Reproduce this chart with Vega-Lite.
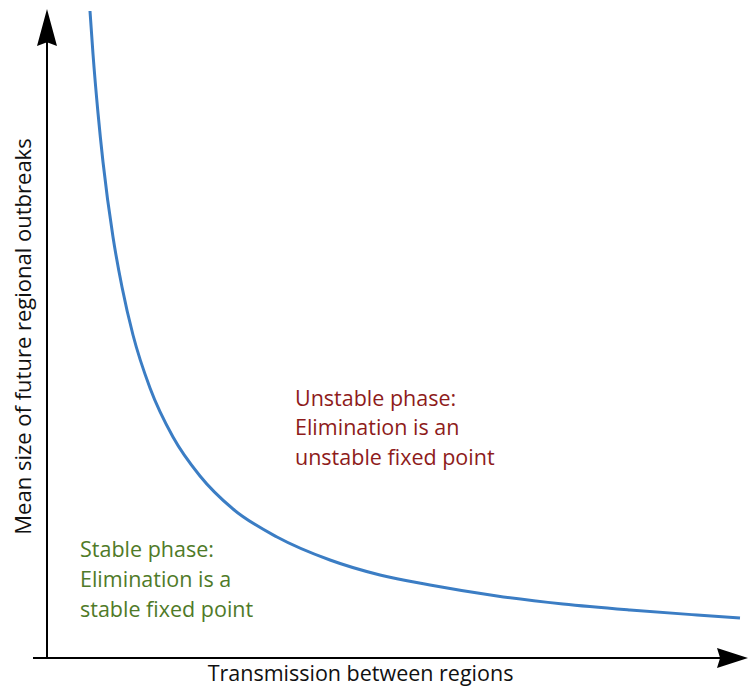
{
  "$schema": "https://vega.github.io/schema/vega-lite/v6.json",
  "autosize": {"type": "none"},
  "padding": {"left": 47, "top": 0, "right": 0, "bottom": 34},
  "width": 703,
  "height": 658,
  "background": "white",
  "config": {"view": {"stroke": null}, "font": "Open Sans"},
  "datasets": {
    "curve": [
      {"t": 0.43, "m": 6.47}, {"t": 0.46, "m": 6.04}, {"t": 0.51, "m": 5.45},
      {"t": 0.56, "m": 4.96}, {"t": 0.66, "m": 4.21}, {"t": 0.75, "m": 3.71},
      {"t": 0.86, "m": 3.23}, {"t": 1.03, "m": 2.70}, {"t": 1.26, "m": 2.21},
      {"t": 1.53, "m": 1.82}, {"t": 1.86, "m": 1.49}, {"t": 2.30, "m": 1.21},
      {"t": 2.83, "m": 0.98}, {"t": 3.33, "m": 0.83}, {"t": 3.83, "m": 0.73},
      {"t": 4.50, "m": 0.62}, {"t": 5.16, "m": 0.54}, {"t": 5.83, "m": 0.48},
      {"t": 6.50, "m": 0.43}, {"t": 6.93, "m": 0.40}
    ],
    "axes": [
      {"x": 0, "y": 0, "x2": 0, "y2": 6.25},
      {"x": -0.14, "y": 0, "x2": 6.8, "y2": 0}
    ],
    "heads": [
      {"x": 0, "y": 6.305, "dir": "up"},
      {"x": 6.855, "y": 0, "dir": "right"}
    ],
    "notes": [
      {"x": 2.48, "y": 2.52, "text": "Unstable phase:", "phase": "unstable"},
      {"x": 2.48, "y": 2.23, "text": "Elimination is an", "phase": "unstable"},
      {"x": 2.48, "y": 1.93, "text": "unstable fixed point", "phase": "unstable"},
      {"x": 0.33, "y": 1.01, "text": "Stable phase:", "phase": "stable"},
      {"x": 0.33, "y": 0.71, "text": "Elimination is a", "phase": "stable"},
      {"x": 0.33, "y": 0.41, "text": "stable fixed point", "phase": "stable"}
    ]
  },
  "layer": [
    {
      "data": {"name": "curve"},
      "mark": {"type": "line", "color": "#3b7dc4", "strokeWidth": 3, "interpolate": "monotone", "clip": false},
      "encoding": {
        "x": {"field": "t", "type": "quantitative", "scale": {"domain": [0, 7.03], "nice": false, "zero": false},
          "axis": {"title": "Transmission between regions", "domain": false, "ticks": false, "labels": false, "grid": false,
                   "titleFontSize": 21.5, "titleFontWeight": "normal", "titleColor": "#111", "titlePadding": 5, "titleX": 313}},
        "y": {"field": "m", "type": "quantitative", "scale": {"domain": [0, 6.58], "nice": false, "zero": false},
          "axis": {"title": "Mean size of future regional outbreaks", "domain": false, "ticks": false, "labels": false, "grid": false,
                   "titleFontSize": 22, "titleFontWeight": "normal", "titleColor": "#111", "titlePadding": 12, "titleY": 336}}
      }
    },
    {
      "data": {"name": "axes"},
      "mark": {"type": "rule", "color": "black", "strokeWidth": 2},
      "encoding": {
        "x": {"field": "x", "type": "quantitative"},
        "y": {"field": "y", "type": "quantitative"},
        "x2": {"field": "x2"},
        "y2": {"field": "y2"}
      }
    },
    {
      "data": {"name": "heads"},
      "transform": [{"filter": "datum.dir === 'up'"}],
      "mark": {"type": "point", "filled": true, "color": "black", "opacity": 1,
               "shape": "M0,-1 L0.54,1 L0,0.8 L-0.54,1 Z", "size": 1369},
      "encoding": {
        "x": {"field": "x", "type": "quantitative"},
        "y": {"field": "y", "type": "quantitative"}
      }
    },
    {
      "data": {"name": "heads"},
      "transform": [{"filter": "datum.dir === 'right'"}],
      "mark": {"type": "point", "filled": true, "color": "black", "opacity": 1,
               "shape": "M1,0 L-1,-0.65 L-0.8,0 L-1,0.65 Z", "size": 961},
      "encoding": {
        "x": {"field": "x", "type": "quantitative"},
        "y": {"field": "y", "type": "quantitative"}
      }
    },
    {
      "data": {"name": "notes"},
      "mark": {"type": "text", "align": "left", "baseline": "alphabetic", "fontSize": 21.5},
      "encoding": {
        "x": {"field": "x", "type": "quantitative"},
        "y": {"field": "y", "type": "quantitative"},
        "text": {"field": "text"},
        "color": {"field": "phase", "type": "nominal", "legend": null,
                  "scale": {"domain": ["unstable", "stable"], "range": ["#8e1b1b", "#4f7a28"]}}
      }
    }
  ]
}
